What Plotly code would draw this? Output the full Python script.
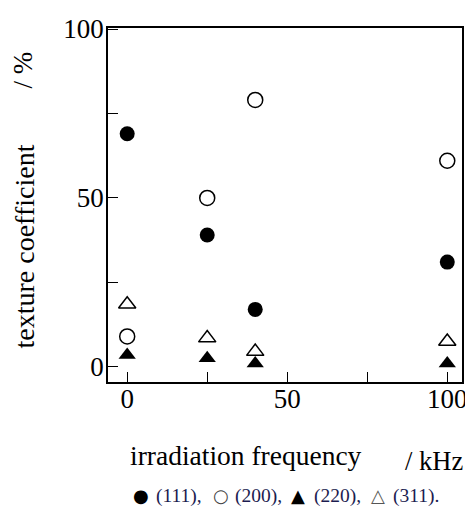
import plotly.graph_objects as go

freq = [0, 25, 40, 100]
tc_111 = [69, 39, 17, 31]
tc_200 = [9, 50, 79, 61]
tc_220 = [3.5, 2.5, 1, 1]
tc_311 = [18.5, 8.5, 4.5, 7.5]

tick_vals = [0, 25, 50, 75, 100]
tick_text = ["0", "", "50", "", "100"]

legend_symbols = ["●", "○", "▲", "△"]
legend_labels = ["(111),", "(200),", "(220),", "(311)."]

FONT = "Liberation Serif, Times New Roman, serif"

fig = go.Figure()
fig.add_trace(go.Scatter(x=freq, y=tc_111, mode="markers", name="(111)",
                         marker=dict(symbol="circle", size=15, color="black")))
fig.add_trace(go.Scatter(x=freq, y=tc_200, mode="markers", name="(200)",
                         marker=dict(symbol="circle-open", size=15, color="black", line=dict(width=1.5))))
fig.add_trace(go.Scatter(x=freq, y=tc_220, mode="markers", name="(220)",
                         marker=dict(symbol="triangle-up", size=15, color="black")))
fig.add_trace(go.Scatter(x=freq, y=tc_311, mode="markers", name="(311)",
                         marker=dict(symbol="triangle-up-open", size=15, color="black", line=dict(width=1.5))))

axis_common = dict(
    showline=True, linecolor="black", linewidth=1.6, mirror=True,
    ticks="inside", ticklen=10, tickwidth=1.4, tickcolor="black",
    tickvals=tick_vals, ticktext=tick_text,
    showgrid=False, zeroline=False,
    tickfont=dict(family=FONT, size=27, color="black"),
)

annotations = [
    dict(text="texture coefficient", xref="paper", yref="paper", x=-0.236, y=0.384,
         xanchor="center", yanchor="middle",
         textangle=-90, showarrow=False, font=dict(family=FONT, size=28, color="black")),
    dict(text="/ %", xref="paper", yref="paper", x=-0.24, y=0.88,
         xanchor="center", yanchor="middle",
         textangle=-90, showarrow=False, font=dict(family=FONT, size=27, color="black")),
    dict(text="irradiation frequency", xref="paper", yref="paper", x=0.056, y=-0.208,
         xanchor="left", yanchor="middle", showarrow=False,
         font=dict(family=FONT, size=27.5, color="black")),
    dict(text="/ kHz", xref="paper", yref="paper", x=0.832, y=-0.222,
         xanchor="left", yanchor="middle", showarrow=False,
         font=dict(family=FONT, size=26.5, color="black")),
]

sym_x = [0.072, 0.298, 0.518, 0.744]
lab_x = [0.1365, 0.359, 0.582, 0.805]
sym_col = ["black", "#444444", "black", "#555555"]
for s, l, sx, lx, c in zip(legend_symbols, legend_labels, sym_x, lab_x, sym_col):
    annotations.append(dict(text=s, xref="paper", yref="paper", x=sx - 0.006, y=-0.322,
                            xanchor="left", yanchor="middle", showarrow=False,
                            font=dict(family="DejaVu Sans", size=18, color=c)))
    annotations.append(dict(text=l, xref="paper", yref="paper", x=lx - 0.006, y=-0.322,
                            xanchor="left", yanchor="middle", showarrow=False,
                            font=dict(family=FONT, size=19.5, color="#1c1c50")))

fig.update_layout(
    width=465, height=500,
    margin=dict(l=100, r=6, t=14, b=126),
    paper_bgcolor="white", plot_bgcolor="white",
    showlegend=False,
    xaxis=dict(range=[-6, 104.6], ticklabelstandoff=-8, **axis_common),
    yaxis=dict(range=[-4.5, 100.3], ticklabelstandoff=-3, **axis_common),
    annotations=annotations,
)

fig.write_html("out.html")
